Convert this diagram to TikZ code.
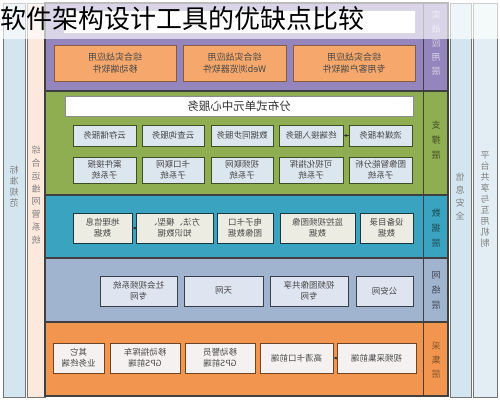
\documentclass[tikz,border=0pt]{standalone}
\usepackage{fontspec}
\setmainfont{Liberation Sans}
\newfontfamily\cjk{Noto Sans CJK SC}
\usetikzlibrary{arrows.meta}

\definecolor{appL}{HTML}{9486BC}
\definecolor{supL}{HTML}{8FAE52}
\definecolor{datL}{HTML}{3AA3BF}
\definecolor{netL}{HTML}{A0B4D0}
\definecolor{colL}{HTML}{F2964F}
\definecolor{appBox}{HTML}{F6A86C}
\definecolor{supBox}{HTML}{DCE6EE}
\definecolor{datBox}{HTML}{EDECE2}
\definecolor{netBox}{HTML}{DEE5F0}
\definecolor{colBox}{HTML}{F5F1F1}
\definecolor{sideA}{HTML}{D3E6F0}
\definecolor{sideB}{HTML}{FCE8DD}
\definecolor{sideC}{HTML}{E2EEF3}

\tikzset{
  mir/.style={xscale=-1},
  lbox/.style={mir, draw=#1, line width=1pt, inner sep=0pt, align=center,
    text=black!72, font=\cjk\fontsize{8.5}{11}\selectfont},
  vtext/.style={mir, align=center, inner sep=0pt, font=\cjk\fontsize{9}{#1}\selectfont},
  dotarrow/.style={-{Latex[length=3pt,width=3pt]}, line width=1pt, black!80}
}

\begin{document}
\begin{tikzpicture}[x=1pt,y=-1pt]
  \useasboundingbox (0,0) rectangle (500,400);
  \fill[white] (0,0) rectangle (500,400);
  % side columns
  \filldraw[fill=sideA, draw=black!55] (3,3) rectangle (25,397);
  \filldraw[fill=sideB, draw=black!55] (27,3) rectangle (45,397);
  \filldraw[fill=sideA, draw=black!55] (450,3) rectangle (471,397);
  \filldraw[fill=sideC, draw=black!55] (473,3) rectangle (497,397);
  % layers
  \fill[appL] (45,3) rectangle (448,91);
  \fill[supL] (45,91) rectangle (448,195);
  \fill[datL] (45,195) rectangle (448,258);
  \fill[netL] (45,258) rectangle (448,322);
  \fill[colL] (45,322) rectangle (448,396);
  \foreach \y in {91,195,258,322}
    \draw[line width=1.2pt, black!75] (45,\y) -- (448,\y);
  \draw[line width=1.2pt, black!75] (45,3) rectangle (448,396);
  \draw[line width=1pt, black!75] (423,3) -- (423,396);

  % layer names
  \node[vtext=14, text=appL!35] (nApp) at (436,43) {实\\战\\应\\用\\层};
  \node[vtext=15, text=supL!45!black] (nSup) at (436,140) {支\\撑\\层};
  \node[vtext=15, text=datL!45!black] (nDat) at (436,228) {数\\据\\层};
  \node[vtext=15, text=netL!40!black] (nNet) at (436,290) {网\\络\\层};
  \node[vtext=14, text=colL!55!black] (nCol) at (436,360) {采\\集\\层};
  \node[vtext=11, text=black!50] (std) at (14,187) {标\\准\\规\\范};
  \node[vtext=12.8, text=black!50] (ops) at (36,195) {综\\合\\运\\维\\网\\管\\系\\统};
  \node[vtext=13, text=black!50] (sec) at (460,196) {信\\息\\安\\全};
  \node[vtext=11, text=black!50] (share) at (485,199) {平\\台\\共\\享\\与\\互\\用\\机\\制};

  % application layer
  \node[lbox=black!40, fill=white, minimum width=352, minimum height=23] (top) at (239,21.5) {};
  \foreach \xa/\xb/\n/\t in {54/176/1/{综合实战应用\\移动端软件},
      183/286/2/{综合实战应用\\Web浏览器软件},
      293/415/3/{综合实战应用\\专用客户端软件}}
    \node[lbox=appBox!55!black, fill=appBox, minimum width={\xb-\xa}, minimum height=36,
      font=\cjk\fontsize{9}{12}\selectfont] (a\n) at ({(\xa+\xb)/2},63) {\t};

  % support layer
  \node[lbox=black!45, fill=white, minimum width=348, minimum height=20,
    font=\cjk\fontsize{11.5}{12}\selectfont, text=black!80] (center) at (239,106) {分布式单元中心服务};
  \foreach \xa/\xb/\n/\t in {73/136/1/云存储服务, 142/204/2/云查询服务, 211/273/3/数据同步服务,
      279/343/4/终端接入服务, 349/412/5/流媒体服务}
    \node[lbox=supL!45!black, fill=supBox, minimum width={\xb-\xa}, minimum height=21] (s\n) at ({(\xa+\xb)/2},135.5) {\t};
  \foreach \xa/\xb/\n/\t in {73/136/1/{案件接报\\子系统}, 142/204/2/{卡口联网\\子系统},
      211/273/3/{视频联网\\子系统}, 279/343/4/{可视化指挥\\子系统}, 349/412/5/{图像智能分析\\子系统}}
    \node[lbox=supL!45!black, fill=supBox, minimum width={\xb-\xa}, minimum height=26] (u\n) at ({(\xa+\xb)/2},170) {\t};
  \draw[dotarrow] (s5) -- (s4);

  % data layer
  \foreach \xa/\xb/\n/\t in {73/132/1/{地理信息\\数据}, 136/213/2/{方法、模型、\\知识数据},
      217/273/3/{电子卡口\\图像数据}, 280/355/4/{监控视频图像\\数据}, 360/413/5/{设备目录\\数据}}
    \node[lbox=datL!35!black, fill=datBox, minimum width={\xb-\xa}, minimum height=30] (d\n) at ({(\xa+\xb)/2},228) {\t};
  \draw[dotarrow] (d2) -- (d1);

  % network layer
  \foreach \xa/\xb/\n/\t in {100/177/1/{社会视频系统\\专网}, 184/263/2/天网,
      270/348/3/{视频图像共享\\专网}, 356/413/4/公安网}
    \node[lbox=netL!35!black, fill=netBox, minimum width={\xb-\xa}, minimum height=30] (w\n) at ({(\xa+\xb)/2},291) {\t};

  % collection layer
  \foreach \xa/\xb/\n/\t in {53/104/1/{其它\\业务终端}, 110/180/2/{移动指挥车\\GPS前端},
      185/255/3/{移动警员\\GPS前端}, 260/333/4/高清卡口前端, 337/416/5/视频采集前端}
    \node[lbox=colL!45!black, fill=colBox, minimum width={\xb-\xa}, minimum height=30] (c\n) at ({(\xa+\xb)/2},358) {\t};
  \draw[dotarrow] (c5) -- (c4);

  % title band
  \fill[white, opacity=0.65] (0,0) rectangle (500,39);
  \node[anchor=west, inner sep=0pt, font=\cjk\fontsize{26}{27}\selectfont] (title) at (0,19) {软件架构设计工具的优缺点比较};
\end{tikzpicture}
\end{document}
